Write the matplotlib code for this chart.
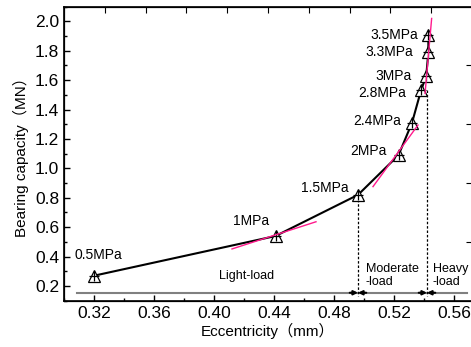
import matplotlib
matplotlib.use("Agg")
import matplotlib.pyplot as plt
from matplotlib.ticker import MultipleLocator

plt.rcParams['font.family'] = ['Liberation Sans', 'Noto Sans CJK SC', 'DejaVu Sans']

# measured points
labels = ['0.5MPa', '1MPa', '1.5MPa', '2MPa', '2.4MPa', '2.8MPa', '3MPa', '3.3MPa', '3.5MPa']
ecc = [0.320, 0.441, 0.496, 0.523, 0.532, 0.538, 0.5415, 0.5429, 0.5429]
cap = [0.27, 0.54, 0.82, 1.09, 1.31, 1.53, 1.63, 1.79, 1.91]

# label anchors (right-aligned except first two)
lab_x = [0.323, 0.425, 0.490, 0.5151, 0.5245, 0.528, 0.5318, 0.5327, 0.536]
lab_y = [0.41, 0.645, 0.867, 1.12, 1.325, 1.51, 1.63, 1.79, 1.91]

# tangent lines
tan_x = [[0.412, 0.468], [0.506, 0.536], [0.5407, 0.5451]]
tan_y = [[0.452, 0.637], [0.876, 1.295], [1.51, 2.02]]

# load region boundaries
bounds = [0.496, 0.542]
bound_top = [0.82, 1.53]
base_y = 0.154

fig = plt.figure(figsize=(4.71, 3.47), dpi=100)
ax = fig.add_axes([64 / 471, 1 - 300.7 / 347, 408 / 471, 294 / 347])

ax.plot(ecc, cap, color='black', lw=1.5, zorder=3)
ax.plot(ecc, cap, ls='none', marker='^', ms=9, mfc='white', mec='black', mew=0.9, zorder=4)
ax.plot(ecc, cap, ls='none', marker='+', ms=7, mec='black', mew=0.9, zorder=5)

for tx, ty in zip(tan_x, tan_y):
    ax.plot(tx, ty, color='#FF1A8C', lw=1.0, zorder=6)

for i, (lx, ly, t) in enumerate(zip(lab_x, lab_y, labels)):
    ax.text(lx, ly, t, fontsize=10, ha='center' if i < 2 else 'right', va='center')

ax.plot([0.3087, 0.5685], [base_y, base_y], color='#808080', lw=1.5, zorder=2)
for b, top in zip(bounds, bound_top):
    ax.plot([b, b], [top, 0.13], color='black', lw=0.9, ls=(0, (2, 1.5)), zorder=2)
    for x0 in (b - 0.0055, b + 0.0055):
        ax.annotate('', xy=(b, base_y), xytext=(x0, base_y),
                    arrowprops=dict(arrowstyle='-|>', lw=1.5, color='black',
                                    mutation_scale=6, shrinkA=0, shrinkB=0), zorder=3)

ax.text(0.4218, 0.268, 'Light-load', fontsize=9, ha='center', va='center')
ax.text(0.5013, 0.27, 'Moderate\n-load', fontsize=9, ha='left', va='center', linespacing=1.1)
ax.text(0.5458, 0.27, 'Heavy\n-load', fontsize=9, ha='left', va='center', linespacing=1.1)

ax.set_xlim(0.30, 0.572)
ax.set_ylim(0.1, 2.1)
ax.xaxis.set_minor_locator(MultipleLocator(0.02))
ax.set_xticks([0.32, 0.36, 0.40, 0.44, 0.48, 0.52, 0.56])
ax.set_xticklabels(['0.32', '0.36', '0.40', '0.44', '0.48', '0.52', '0.56'])
ax.yaxis.set_minor_locator(MultipleLocator(0.1))
ax.set_yticks([0.2, 0.4, 0.6, 0.8, 1.0, 1.2, 1.4, 1.6, 1.8, 2.0])
ax.tick_params(which='both', direction='in', labelsize=12.5, width=1)
ax.tick_params(which='major', length=4.5)
ax.tick_params(which='minor', length=2.5)
ax.set_xlabel('Eccentricity（mm）', fontsize=11, labelpad=2)
ax.set_ylabel('Bearing capacity（MN）', fontsize=11, labelpad=4)
for s in ax.spines.values():
    s.set_linewidth(1.2)

# top and right axes of the original plot
axt = ax.twiny()
axt.set_xlim(0, 1)
axt.set_xticks([0.1, 0.2, 0.3, 0.4, 0.5, 0.6, 0.7, 0.8, 0.9])
axt.tick_params(direction='in', length=4.5, labeltop=False)
axr = ax.twinx()
axr.set_ylim(0, 1)
axr.set_yticks([0.2, 0.4, 0.6, 0.8])
axr.tick_params(direction='in', length=4.5, labelright=False)

fig.savefig('out.png', dpi=100)
